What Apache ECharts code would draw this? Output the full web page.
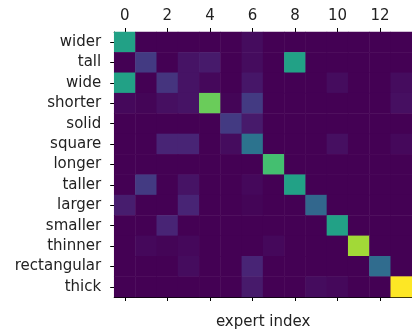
<!DOCTYPE html>
<html>
<head>
<meta charset="utf-8">
<script src="https://cdn.jsdelivr.net/npm/echarts@6/dist/echarts.min.js"></script>
<style>
html,body{margin:0;padding:0;background:#fff;}
#chart{width:412px;height:335px;}
</style>
</head>
<body>
<div id="chart"></div>
<script>
const rowLabels = ['wider','tall','wide','shorter','solid','square','longer','taller','larger','smaller','thinner','rectangular','thick'];
const expertIndex = ['0','1','2','3','4','5','6','7','8','9','10','11','12','13'];
const values = [
  [0.57,0,0,0,0,0,0.03,0,0,0,0,0,0,0],
  [0,0.17,0,0.05,0.07,0,0.03,0,0.57,0,0,0,0,0],
  [0.57,0,0.15,0.05,0.02,0,0.06,0,0,0,0.03,0,0,0.03],
  [0.02,0.01,0.04,0.05,0.77,0.01,0.17,0,0,0,0,0,0,0.04],
  [0,0,0,0,0,0.17,0.07,0,0,0,0,0,0,0],
  [0,0,0.1,0.1,0,0.03,0.38,0,0,0,0.04,0,0,0.02],
  [0,0,0,0,0,0,0,0.7,0,0,0,0,0,0],
  [0,0.17,0,0.05,0,0,0.02,0,0.57,0,0,0,0,0],
  [0.08,0,0,0.1,0,0,0.01,0,0,0.33,0,0,0,0],
  [0,0,0.1,0,0,0,0,0,0,0,0.57,0,0,0],
  [0,0.02,0.01,0.02,0,0,0,0.02,0,0,0,0.86,0,0],
  [0,0,0,0.03,0,0,0.1,0,0,0,0,0,0.35,0],
  [0,0,0,0,0,0,0.07,0,0,0.03,0.02,0,0,1.0]
];
const viridis = ['#440154','#482475','#414487','#355f8d','#2a788e','#21918c','#22a884','#44bf70','#7ad151','#bddf26','#fde725'];

const data = [];
values.forEach((row, r) => row.forEach((v, c) => data.push([c, r, v])));

const txt = {color:'#222', fontFamily:'DejaVu Sans', fontSize:15};
const chart = echarts.init(document.getElementById('chart'), null, {renderer:'canvas'});
chart.setOption({
  animation:false,
  grid:{left:114.2, top:32, width:302.4, height:280.8},
  xAxis:[{
    type:'category', data:expertIndex, position:'top',
    axisLine:{show:true, lineStyle:{color:'#000', width:1}},
    axisTick:{show:true, alignWithLabel:true, interval:1, length:4, lineStyle:{color:'#000'}},
    axisLabel:Object.assign({interval:1, margin:8}, txt),
    splitLine:{show:false}
  },{
    type:'category', data:expertIndex, position:'bottom',
    name:'expert index', nameLocation:'middle', nameGap:18,
    nameTextStyle:txt,
    axisLine:{show:true, lineStyle:{color:'#000', width:1}},
    axisTick:{show:true, alignWithLabel:true, interval:1, length:4, lineStyle:{color:'#000'}},
    axisLabel:{show:false},
    splitLine:{show:false}
  }],
  yAxis:{
    type:'category', data:rowLabels, inverse:true,
    axisLine:{show:true, lineStyle:{color:'#000', width:1}},
    axisTick:{show:true, alignWithLabel:true, length:4, lineStyle:{color:'#000'}},
    axisLabel:Object.assign({margin:13}, txt),
    splitLine:{show:false}
  },
  visualMap:{show:false, min:0, max:1, dimension:2, inRange:{color:viridis}},
  series:[{
    type:'heatmap', xAxisIndex:0, data:data,
    itemStyle:{borderWidth:0},
    emphasis:{disabled:true}
  }]
});
</script>
</body>
</html>
